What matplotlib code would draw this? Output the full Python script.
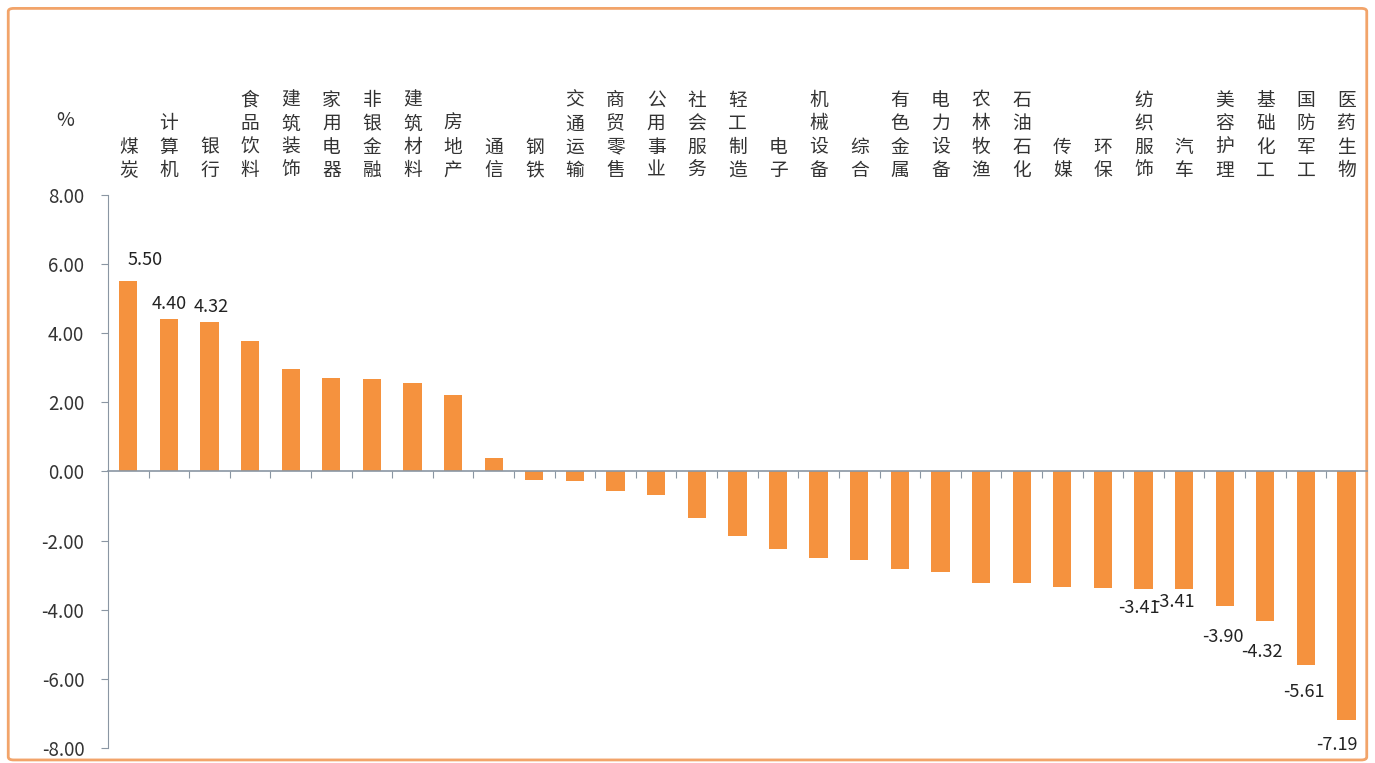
import matplotlib.pyplot as plt
import numpy as np
from matplotlib.patches import FancyBboxPatch

plt.rcParams['font.family'] = ['Noto Sans CJK SC', 'DejaVu Sans']

# 行业涨跌幅 (%)
industries = ['煤炭', '计算机', '银行', '食品饮料', '建筑装饰', '家用电器', '非银金融', '建筑材料',
              '房地产', '通信', '钢铁', '交通运输', '商贸零售', '公用事业', '社会服务', '轻工制造',
              '电子', '机械设备', '综合', '有色金属', '电力设备', '农林牧渔', '石油石化', '传媒',
              '环保', '纺织服饰', '汽车', '美容护理', '基础化工', '国防军工', '医药生物']
changes = [5.50, 4.40, 4.32, 3.78, 2.97, 2.70, 2.67, 2.56,
           2.21, 0.38, -0.25, -0.28, -0.55, -0.68, -1.34, -1.86,
           -2.24, -2.50, -2.56, -2.82, -2.90, -3.22, -3.22, -3.34,
           -3.38, -3.41, -3.41, -3.90, -4.32, -5.61, -7.19]
# 只标注首尾几个数值
labeled = [0, 1, 2, 25, 26, 27, 28, 29, 30]

fig = plt.figure(figsize=(13.75, 7.63), dpi=100)

# 外框
frame = FancyBboxPatch((0.006, 0.004), 0.988, 0.985, boxstyle='round,pad=0,rounding_size=0.004',
                       transform=fig.transFigure, facecolor='white', edgecolor='#F2A46A',
                       linewidth=2.0, zorder=-1)
fig.patches.append(frame)

ax = fig.add_axes([0.0785, 0.0197, 0.9156, 0.7247])
ax.patch.set_alpha(0)

x = np.arange(len(industries))
ax.bar(x, changes, width=0.45, color='#F5923E', zorder=2)

ax.set_xlim(-0.5, len(industries) - 0.5)
ax.set_ylim(-8, 8)
ax.set_yticks(np.arange(-8, 9, 2))
ax.set_yticklabels(['%.2f' % v for v in np.arange(-8, 9, 2)], fontsize=13.5, color='#333333')

axis_color = '#8a96a3'
for s in ['top', 'right']:
    ax.spines[s].set_visible(False)
ax.spines['left'].set_color(axis_color)
ax.spines['bottom'].set_position(('data', 0))
ax.spines['bottom'].set_color(axis_color)
ax.spines['bottom'].set_linewidth(1.2)
ax.tick_params(axis='y', direction='out', length=5, color=axis_color, pad=12)
ax.set_xticks(x[:-1] + 0.5)
ax.set_xticklabels([])
ax.tick_params(axis='x', direction='out', length=5, color=axis_color)

# 顶部竖排行业名
for i, name in enumerate(industries):
    ax.text(i, 1.0 + 14 / 553, '\n'.join(name), transform=ax.get_xaxis_transform(),
            ha='center', va='bottom', fontsize=13.5, linespacing=1.15, color='#333333')
ax.text(-0.034, 1.0 + 75 / 553, '%', transform=ax.transAxes, ha='center', va='center',
        fontsize=14, color='#333333')

# 数值标注 (像素偏移)
offsets = {0: (17, 12), 1: (0, 6), 2: (2, 6), 25: (-5, -10), 26: (-10, -4),
           27: (-2, -22), 28: (-3, -22), 29: (-2, -18), 30: (-10, -16)}
for i in labeled:
    v = changes[i]
    dx, dy = offsets[i]
    ax.annotate('%.2f' % v, (i, v), xytext=(dx, dy), textcoords='offset pixels',
                ha='center', va='bottom' if v > 0 else 'top', fontsize=13, color='#222222')

plt.savefig('out.png', dpi=100)
